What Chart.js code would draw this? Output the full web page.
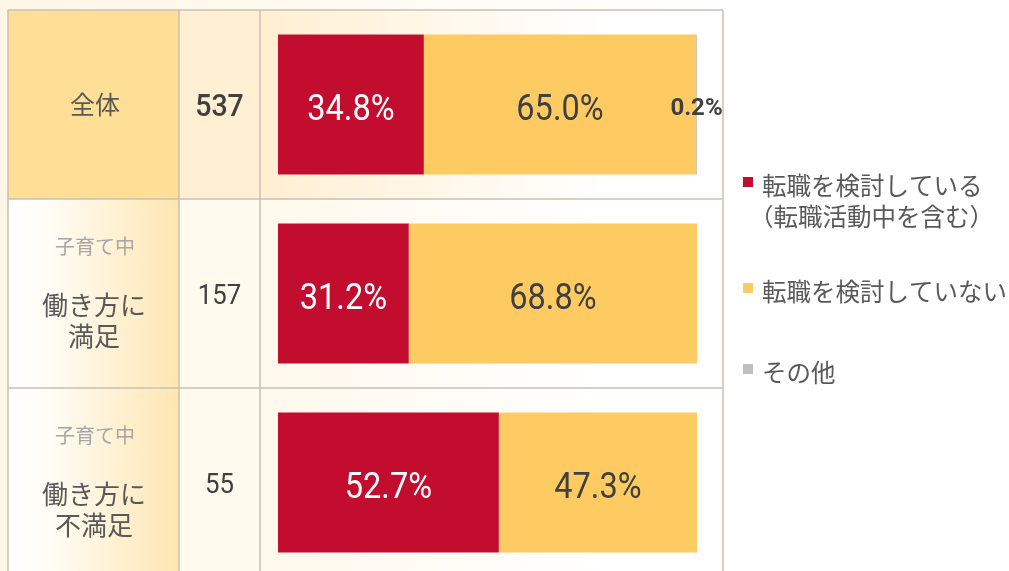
<!DOCTYPE html>
<html>
<head>
<meta charset="utf-8">
<script src="https://cdn.jsdelivr.net/npm/chart.js@4"></script>
<style>
html, body { margin: 0; padding: 0; overflow: hidden; background: #ffffff; }
#wrap { position: relative; width: 1009px; height: 577px; }
</style>
</head>
<body>
<div id="wrap"><canvas id="c"></canvas></div>
<script>
// ---- data ----
const categories = ['全体', '子育て中 働き方に満足', '子育て中 働き方に不満足'];
const catSub = ['', '子育て中', '子育て中'];
const catMain = [['全体'], ['働き方に', '満足'], ['働き方に', '不満足']];
const sampleSizes = [537, 157, 55];
const seriesNames = [['転職を検討している', '（転職活動中を含む）'], ['転職を検討していない'], ['その他']];
const considering = [34.8, 31.2, 52.7];
const notConsidering = [65.0, 68.8, 47.3];
const other = [0.2, 0, 0];
const seriesColors = ['#C30D2E', '#FECB62', '#BFBFBF'];
const labelColors = ['#FFFFFF', '#404040', '#404040'];

const JP = '"Noto Sans CJK JP", "Noto Sans", sans-serif';
const NUM = 'Roboto, "Liberation Sans", sans-serif';

function scaledText(ctx, text, x, y, sx) {
  ctx.save();
  ctx.translate(x, y);
  ctx.scale(sx, 1);
  ctx.fillText(text, 0, 0);
  ctx.restore();
}

const tablePlugin = {
  id: 'tablePlugin',
  beforeDraw(chart) {
    const ctx = chart.ctx;
    const W = chart.width, H = chart.height;
    const ys = chart.scales.y;
    const area = chart.chartArea;
    const n = chart.data.labels.length;
    const rowH = (area.bottom - area.top) / n;
    const colX = [8, 179, 260, 723];
    ctx.save();
    // page background
    let g = ctx.createLinearGradient(0, 0, colX[3], 0);
    g.addColorStop(0, '#FFF6E6');
    g.addColorStop(1, '#FFFFFF');
    ctx.fillStyle = g;
    ctx.fillRect(0, 0, W, H);
    for (let i = 0; i < n; i++) {
      const cy = ys.getPixelForValue(i);
      const top = cy - rowH / 2;
      // column 1
      if (i === 0) {
        ctx.fillStyle = '#FFDE96';
      } else {
        g = ctx.createLinearGradient(colX[0], 0, colX[1], 0);
        g.addColorStop(0, '#FFFFFF');
        g.addColorStop(0.25, '#FFFCF5');
        g.addColorStop(1, '#FFE6B2');
        ctx.fillStyle = g;
      }
      ctx.fillRect(colX[0], top, colX[1] - colX[0], rowH);
      // column 2
      ctx.fillStyle = i === 0 ? '#FFF0D3' : '#FFF9EE';
      ctx.fillRect(colX[1], top, colX[2] - colX[1], rowH);
      // column 3
      g = ctx.createLinearGradient(colX[2], 0, colX[3], 0);
      g.addColorStop(0, i === 0 ? '#FFEFD2' : '#FFF8EC');
      g.addColorStop(0.75, '#FFFFFF');
      g.addColorStop(1, '#FFFFFF');
      ctx.fillStyle = g;
      ctx.fillRect(colX[2], top, colX[3] - colX[2], rowH);
    }
    // borders
    ctx.strokeStyle = '#C8C1B4';
    ctx.lineWidth = 1.5;
    ctx.beginPath();
    for (const x of colX) {
      ctx.moveTo(x, area.top);
      ctx.lineTo(x, area.bottom);
    }
    for (let i = 0; i <= n; i++) {
      const y = area.top + i * rowH;
      ctx.moveTo(colX[0], y);
      ctx.lineTo(colX[3], y);
    }
    ctx.stroke();

    // column 1 and 2 texts
    ctx.textAlign = 'center';
    for (let i = 0; i < n; i++) {
      const cy = ys.getPixelForValue(i);
      if (catSub[i]) {
        ctx.fillStyle = '#A6A6A6';
        ctx.font = '20px ' + JP;
        ctx.textBaseline = 'middle';
        ctx.fillText(catSub[i], 95, cy - 47.5);
        ctx.fillStyle = '#595959';
        ctx.font = '26px ' + JP;
        catMain[i].forEach((t, k) => ctx.fillText(t, 94, cy + 12 + k * 30.5));
      } else {
        ctx.fillStyle = '#595959';
        ctx.font = '25px ' + JP;
        ctx.textBaseline = 'middle';
        ctx.fillText(catMain[i][0], 95, cy);
      }
      ctx.textBaseline = 'alphabetic';
      ctx.fillStyle = '#404040';
      if (i === 0) {
        ctx.font = '500 31px ' + NUM;
        scaledText(ctx, String(sampleSizes[i]), 219.5, cy + 11.5, 0.92);
      } else {
        ctx.font = '28px ' + NUM;
        scaledText(ctx, String(sampleSizes[i]), 219.5, cy + 10, 0.92);
      }
    }
    ctx.restore();
  },
  afterDatasetsDraw(chart) {
    const ctx = chart.ctx;
    ctx.save();
    ctx.textAlign = 'center';
    ctx.textBaseline = 'alphabetic';
    chart.data.datasets.forEach((ds, di) => {
      const meta = chart.getDatasetMeta(di);
      meta.data.forEach((el, i) => {
        const v = ds.data[i];
        if (!v) return;
        const txt = v.toFixed(1) + '%';
        if (v < 5) {
          ctx.fillStyle = '#404040';
          ctx.font = 'bold 24px ' + NUM;
          ctx.fillText(txt, el.x - 0.5, el.y + 10.5);
        } else {
          ctx.fillStyle = labelColors[di];
          ctx.font = '37px ' + NUM;
          const cx = (el.x + el.base) / 2;
          scaledText(ctx, txt, cx, el.y + 15, 0.88);
        }
      });
    });
    ctx.restore();
  },
  afterDraw(chart) {
    const ctx = chart.ctx;
    const lineY = [[186, 216.5], [292], [373]];
    ctx.save();
    ctx.font = '24.5px ' + JP;
    ctx.fillStyle = '#595959';
    ctx.textBaseline = 'middle';
    ctx.textAlign = 'left';
    chart.data.datasets.forEach((ds, di) => {
      const lines = seriesNames[di];
      const ly = lineY[di];
      ctx.fillStyle = ds.backgroundColor;
      ctx.fillRect(743, ly[0] - 9, 10, 10);
      ctx.fillStyle = '#595959';
      lines.forEach((t, k) => {
        const x = t.startsWith('（') ? 749 : 762;
        ctx.fillText(t, x, ly[k]);
      });
    });
    ctx.restore();
  }
};

new Chart(document.getElementById('c'), {
  type: 'bar',
  data: {
    labels: categories,
    datasets: [
      { label: seriesNames[0].join(''), data: considering, backgroundColor: seriesColors[0] },
      { label: seriesNames[1].join(''), data: notConsidering, backgroundColor: seriesColors[1] },
      { label: seriesNames[2].join(''), data: other, backgroundColor: seriesColors[2] }
    ]
  },
  options: {
    indexAxis: 'y',
    responsive: true,
    maintainAspectRatio: false,
    animation: false,
    layout: { padding: { left: 278, right: 312, top: 10, bottom: 0 } },
    datasets: { bar: { barPercentage: 0.741, categoryPercentage: 1, borderWidth: 0 } },
    scales: {
      x: { stacked: true, min: 0, max: 100, display: false },
      y: { stacked: true, display: false }
    },
    plugins: { legend: { display: false }, tooltip: { enabled: false } }
  },
  plugins: [tablePlugin]
});
</script>
</body>
</html>
